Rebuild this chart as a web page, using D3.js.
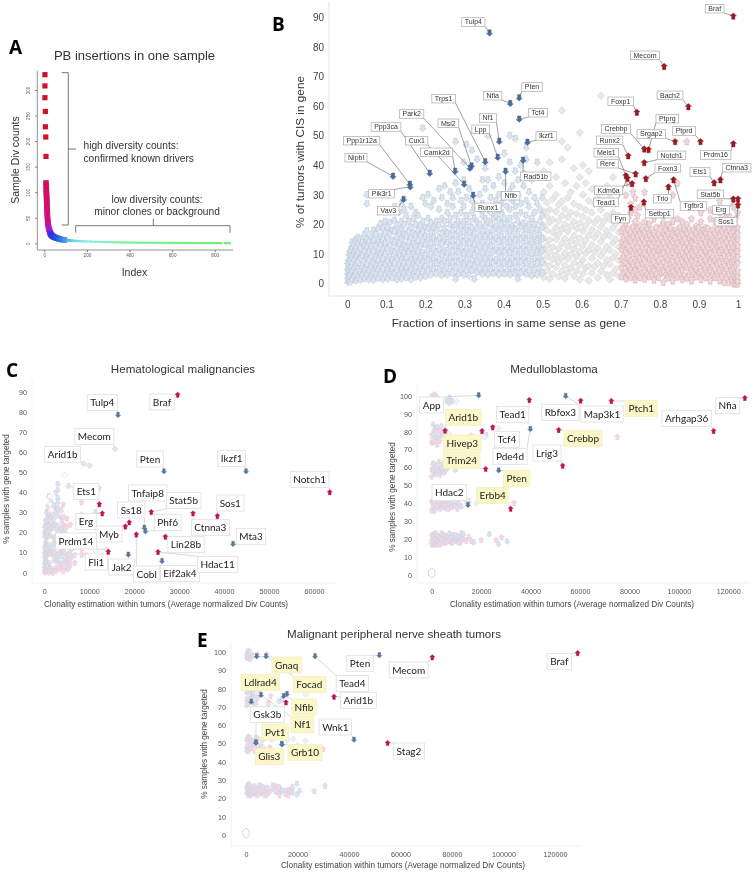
<!DOCTYPE html>
<html><head><meta charset="utf-8">
<script src="https://cdn.jsdelivr.net/npm/d3@7"></script>
<style>html,body{margin:0;padding:0;background:#fff}svg{display:block;filter:blur(0.3px)}</style>
</head><body><svg id="c" width="755" height="876"></svg>
<script>
/* ---------- DATA ---------- */
// Panel A
const aSquareIndex=[3,3,3,5,5,7,8];
const aSquareValue=[330,308,285,258,228,208,170];
const aIndex=[8,9,9,10,10,11,11,12,12,13,13,14,14,15,16,17,18,20,22,24,26,28,31,34,38,42,47,53,60,68,76,85,95,105,118,132,148,165,185,205,230,255,280,310,340,370,400,430,460,490,520,550,580,610,640,670,700,730,760,790,820,860];
const aValue=[118,112,105,100,95,90,85,80,75,70,65,60,55,50,45,40,36,32,28,25,22,20,18,16,14,13,12,11,10,9,8,7,6.5,6,5.5,5,4.6,4.2,3.8,3.4,3,2.8,2.5,2.2,2,1.8,1.5,1.3,1.2,1.1,1,0.9,0.8,0.7,0.6,0.5,0.5,0.4,0.4,0.3,0.3,0.2];
// Panel B highlighted
const bBlueGenes=["Tulp4","Nfia","Pten","Tcf4","Nf1","Ikzf1","Lpp","Rad51b","Trps1","Msi2","Park2","Camk2d","Nfib","Ppp3ca","Nipbl","Ppp1r12a","Pik3r1","Cux1","Runx1","Vav3"];
const bBlueX=[.364,.417,.44,.44,.389,.461,.385,.45,.353,.318,.314,.276,.405,.211,.117,.16,.161,.299,.322,.144];
const bBlueY=[84.7,60.9,62.8,55.6,48.1,47.8,42.7,41.7,41.2,39.8,39,38,38,37.3,36.3,33.6,32.7,33.6,29.9,28.5];
const bRedGenes=["Braf","Mecom","Bach2","Foxp1","Srgap2","Ptprd","Prdm16","Crebbp","Ptprg","Runx2","Notch1","Rere","Meis1","Tead1","Foxn3","Tgfbr3","Ctnna3","Ets1","Kdm6a","Trio","Stat5b","Erg","Setbp1","Sos1","Fyn"];
const bRedX=[.988,.811,.873,.741,.839,.904,.988,.76,.771,.719,.76,.738,.713,.717,.764,.835,.955,.939,.729,.822,.988,1,.759,1,.726];
const bRedY=[90.4,73.4,59.8,57.9,48,48,47.3,45.5,45.3,43.2,40.9,37.1,36.5,35.6,35.5,35.1,35.1,34.1,33.8,32.7,28.6,28.6,27.6,26.6,25.8];
// Panel B background columns: [x,[y...]]
const bPaleBlue=[
[.001,[.5,2,3.5,5,7]],[.004,[1,2.8,4.4,6,8,10]],[.008,[.5,3.2,5.5,7.5,9.5,11.5]],[.012,[1.5,4,6.6,9,12,14]],[.017,[2.5,5.2,8,10.5,13]],[.022,[1,3.6,6.4,9.2,11.8,14.8]],
[.027,[2,5,7.6,10.4,13.4,15.5]],[.033,[1.2,4,8.8,12,15]],[.038,[2.8,6,9.6,14]],[.044,[1.6,4.6,7.4,11,13,16.5]],[.05,[3,6.4,9,12.4,15,17.8,27,30]],[.055,[1.4,4.4,8,10.6,14]],
[.061,[2.6,5.8,9.4,12.6,16]],[.067,[1.2,4,7.2,11,14.6,18]],[.073,[3,6,8.8,12.8,16.4]],[.079,[1.8,4.8,7.8,10.6,14,18.6]],[.085,[3.4,6.2,9.8,13,16,20.2]],[.091,[1.4,5,8.4,11.4,15,18.4]],
[.097,[2.8,6.6,10,13.6,17,21]],[.103,[1.6,4.4,7.6,11.8,15.6,19,30]],[.109,[3.2,6,9.2,13,17,20.6]],[.115,[2,5,8,11,14.6,18]],[.121,[3.6,7,10.4,13.8,17.6,21.4,26]],[.127,[1.4,4.6,8.6,12,15.8,19.6]],
[.133,[2.8,6.2,9.6,13.6,17,24]],[.139,[1.6,5,8,11.4,15,18.6,21,27]],[.145,[3.4,6.8,10.2,13,16.6,20,25]],[.151,[2,5.4,8.8,12.2,16,23]],[.157,[3.8,7,10.8,14,18,21]],[.163,[1.4,4.8,8.2,12,15.6,19,26]],
[.169,[3.2,6.6,10,13.6,17,22]],[.175,[2.2,5.6,9,12.4,16,20,24]],[.181,[3.6,7.4,11,14.6,18,23]],[.187,[2,5,8.6,12.6,16.4,19.6]],[.193,[4,7.2,10.4,14,17.6,21,29,52.5]],[.2,[2.4,5.8,9.4,13,16,19,27]],
[.207,[4.4,8,11.4,15,18.6,22,30]],[.214,[3,6.4,9.8,13.4,17,20.4,26]],[.221,[5,8.6,12,15.6,19,28]],[.228,[3.4,7,10.6,14.2,18,21]],[.235,[4.8,8.2,11.8,15.4,19.6,25,32]],[.242,[2.8,6.2,9.8,13.4,17,22,29]],
[.249,[4.4,7.8,11.2,15,18.4,21,33]],[.256,[3,6.8,10.2,13.8,17,24,27]],[.263,[5,8.6,12.4,16,19.8,22,31]],[.27,[3.6,7,10.8,14.4,18,26,29]],[.277,[1.5,5.4,9,12.6,16.2,20,23,34,48]],[.284,[3.2,7.2,10.8,14,17.8,21,31]],
[.291,[4.8,8.4,12,15.6,19.4,24,28]],[.298,[3,6.6,10.2,14,17.6,21,26,35,41]],[.305,[4.6,8,11.8,15.4,19,23,29,47]],[.312,[2.6,6.2,9.8,13.6,17.4,21,32]],[.319,[4.4,8,11.6,15.2,19,24,28,45]],[.325,[1.5,6,9.6,13.2,16.8,22,26]],
[.332,[3.8,7.4,11.2,14.8,18.6,21,42]],[.339,[5.2,9,12.6,16.2,20,25,30]],[.346,[3.2,6.8,10.4,14,17.8,23,27,35]],[.353,[4.8,8.4,12,15.8,19.6,22,32,39]],[.36,[3,6.6,10,13.8,17.4,21,25,35,50]],[.367,[5,8.6,12.4,16,20,24,29]],
[.374,[3.4,7,10.8,14.4,18,22,26,33]],[.381,[4.6,8.2,12,15.6,19.4,23,28]],[.388,[3,6.8,10.4,14.2,17.8,21.6,25,30,36]],[.395,[5,8.8,12.4,16,20,24,27]],[.402,[3.2,7,10.8,14.6,18.4,22,29,34,44]],[.409,[4.8,8.4,12.2,16,20,26]],
[.416,[3,6.6,10.4,14,17.8,22,25,31,41,50]],[.423,[5,8.6,12.2,16,19.6,28,33]],[.43,[3.4,7.2,11,14.6,18.4,23,26,38,49]],[.437,[1.6,5.4,9,12.8,16.6,21,30,35]],[.444,[3.6,7.4,11,15,19,24,27,40]],[.451,[5,8.8,12.6,16.4,20.4,33,37]],
[.458,[3.2,7,10.8,14.6,18.4,23,28,42,46]],[.465,[4.6,8.6,12.4,16.2,20,26,31]],[.472,[2.6,6.4,10.2,14,18,22,35]],[.479,[4.6,8.4,12.2,16,20,24,29]],[.486,[3,6.8,10.6,14.4,18.2,27,41]],[.493,[5,8.8,12.6,16.4,21,25]],[.499,[3.6,7.4,11.2,15,19,23,29]]];
const bPaleGrey=[
[.503,[2.2,6.8,11.3,15.4,19.6,24.5,31,38]],[.511,[4.4,9.1,13,18,22.6,27.4]],[.518,[1.6,6.1,10.6,14.8,20.8,25,33,41]],[.526,[3.3,8.2,12.4,17.3,21.6,28.7]],[.534,[5.6,9.7,15,19,24.4,30,36]],[.541,[2.4,7.4,11.8,16.6,21.2,26.6]],
[.549,[4.2,8.8,13.6,18.4,23,27.8,42,48,58.5]],[.557,[1.8,6.2,10.4,15.2,20,25.2,34]],[.564,[3.7,8.4,12.6,17.6,22.4,29,46]],[.572,[5.3,10,14.4,19.4,24,31]],[.58,[2.6,7.2,11.8,16.2,21,27,39]],[.587,[4.4,9.2,13.8,18.6,23.6,33]],
[.595,[1.4,6.4,10.8,15.4,20.4,26,36,51]],[.603,[3.4,8,12.8,17.8,22.6,30,40]],[.61,[5.4,10.2,14.6,19.6,25,34]],[.618,[1,6,11.4,16.4,21.4,28,38]],[.626,[3.6,8.6,13.2,18.2,24,32]],[.633,[5.8,10.6,15.6,20.6,27]],
[.641,[2,7,12,17,22,29]],[.649,[4.2,9.4,14.2,19.2,25,63.5]],[.656,[6,10.8,15.8,21,28]],[.664,[3,8,12.6,17.8,23,33]],[.672,[1.4,6.6,11.4,16.2,21.8,29]],[.68,[3.6,8.8,13.8,18.8,24,36]],[.687,[5,10,15,20.4,27]],[.695,[2.6,7.8,12.4,17.4,23]]];
const bPalePink=[
[.702,[2.4,5.6,8.3,11.7,14.2,17.8]],[.707,[3.8,7.1,9.4,12.9,15.6,19]],[.713,[1.7,4.2,6.9,10.6,13.3,16.7,20.4,30]],[.719,[3.3,5.9,8.8,12.2,15.1,18.4,22,34]],[.725,[2.2,4.9,7.7,11.1,14.6,17.1,24,27]],[.731,[3.6,6.6,10.2,13.1,16.2,19.3,31]],
[.737,[1.4,4.7,8.1,11.6,14.4,17.6,21,25,29]],[.743,[2.9,6.2,9.1,12.4,15.8,18.7,23]],[.749,[2.1,5.3,8.6,10.8,13.9,16.9,19.7,26]],[.755,[3.7,6.9,9.8,12.7,15.3,18.2]],[.761,[1.6,4.3,7.4,10.3,14.1,17.4,21,31]],[.767,[3.1,5.7,9.3,12.1,15.7,18.9]],
[.773,[2.4,5.1,8.4,11.3,13.6,16.6,20.3,24]],[.779,[3.4,6.8,9.6,12.8,15.2,18.1]],[.785,[1.3,4.6,7.2,10.9,14.3,17.2,22]],[.791,[3.2,6.1,9.2,11.9,15.6,19.1]],[.797,[2.2,5.4,7.9,11.4,13.8,16.8]],[.803,[3.9,6.4,10.1,12.6,15.4,19.4]],
[.809,[.5,4.4,7.6,10.4,14,17.3,20.6,23]],[.815,[2.8,5.8,8.9,12.3,15.9,18.3]],[.821,[2.1,4.9,8.3,11.2,13.7,17,20]],[.827,[3.5,6.7,9.7,12.9,15.1,18.8]],[.833,[1,4.3,7.3,10.7,14.2,16.4,21,30]],[.839,[3,6,9.4,12,15.5,18]],
[.845,[2.3,5.2,8,11.5,13.9,17.5,22,34]],[.851,[3.6,6.5,9.9,12.6,16,19.2]],[.857,[1.5,4.8,7.5,10.2,14.4,16.9,21]],[.863,[2.7,6.3,9,12.2,15.3,18.4]],[.869,[2,5.5,8.2,11,13.5,17.4,20,48]],[.875,[3.3,6.6,9.5,12.5,15.7,18.6]],
[.881,[1,4.5,7.8,10.6,14,16.3,22]],[.887,[3.2,5.8,9.2,11.8,15.2,18.2]],[.893,[2.4,5,8.4,11.3,14.6,17.2,19.5]],[.899,[3.8,6.9,9.8,12.7,15.6,18.9]],[.905,[1.5,4.2,7.2,10.5,13.4,16.6,21,24]],[.911,[2.9,6.1,9.3,12.1,15.4,18.1]],
[.917,[2.1,5.4,8.2,11.2,14.1,17.3,19]],[.923,[3.6,6.4,9.6,12.4,15.9,18.7]],[.929,[1,4.7,7.6,10.3,13.7,16.2,22,25]],[.935,[3,5.9,8.8,12.2,15.1,18.3]],[.941,[2.2,5.2,8.1,11.4,14.4,17,21]],[.947,[3.4,6.7,9.4,12.8,15.7,18.5]],
[.953,[1,4.4,7.3,10.7,13.3,16.4,20,24,28]],[.959,[2.5,5.6,8.6,11.6,14.8,17.7]],[.965,[.5,3.6,6.3,9.6,12.3,15.3,19,22]],[.971,[2.2,5.2,7.9,11.2,14.2,17.2]],[.977,[.5,3.3,6.7,9.3,12.7,15.7,18.3,23]],[.983,[1.5,4.6,7.4,10.6,13.6,17,20]],
[.989,[0,2.4,5.1,7.6,10.1,12.4,15.2,18,21,26]],[.994,[0,1.6,3.4,6.1,8.4,11.2,13.6,16,19,22]],[.999,[0,1,2.6,4.4,7.1,9,11.1,13,15.2,17,19,24]]];
// Panel C
const cBlueGenes=["Tulp4","Pten","Ikzf1","Tnfaip8","Phf6","Mta3","Jak2","Eif2ak4"];
const cBlueX=[16400,26630,44880,22250,22480,41980,18700,26190];
const cBlueY=[78.4,50.4,50.4,22.4,20.6,14.3,9,5.8];
const cRedGenes=["Braf","Notch1","Ets1","Erg","Stat5b","Ctnna3","Sos1","Ss18","Myb","Cobl","Lin28b","Fli1","Hdac11"];
const cRedX=[29670,63500,12240,12900,23800,33090,38500,18900,18030,20470,26930,14240,25300];
const cRedY=[88.5,40,34,29.5,30.2,29.5,28.2,25,23,19,17.9,10.4,10.3];
const cGreyGenes=["Mecom","Arid1b","","Prdm14"];
const cGreyX=[15730,8830,10090,13900];
const cGreyY=[61.5,54.2,53.2,11.5];
const cPaleBlue=[[100,[0,1.5,3,5,8,10,13,18,20,23]],[500,[1,4,6,9,12,16,19,23,26,30]],[1000,[0,5,8,11,14,17,21,24,29,38]],[1500,[3,7,10,13,16,19,22,25,28,35]],[2200,[1,4,7,10,14,18,21,24,27,33]],[3000,[2,6,9,13,16,20,23,26,29,32,37,44,35,41]],[3800,[4,8,11,15,18,22,26,31]],[4500,[6,10,13,17,21]],[5400,[2,6,9,13,16,43]],[6200,[8,12]],[11400,[11,30]]];
const cPalePink=[[300,[0.5,2.5,7,12,15,21,26]],[800,[1,3,7.5,10,16,20,28,33]],[1300,[2,4,9,12,18,25,28]],[1900,[0,3,8,11,17,23,29,34]],[2600,[1,6,9,15,18,25,31,40]],[3400,[2,5,11,14,21,27]],[4200,[1,3.5,10,13,20,24,28,34]],[5000,[2,5,8,15,19,23,27]],[5800,[4,7,11,14,18,24]],[6800,[5,9,13,42]],[8300,[9,12,29,35]],[9300,[9]],[12200,[42]]];
const cPaleGrey=[[1300,[38,34,16,7]],[4500,[48.5]],[3000,[26,12]],[11400,[11]],[2000,[20,4]]];
// Panel D
const dBlueGenes=["App","Pde4d","Pten","Hdac2","Map3k1"];
const dBlueX=[19010,39900,27100,14700,54200];
const dBlueY=[100.4,81.5,58.4,39,100];
const dRedGenes=["Nfia","Rbfox3","Tead1","Ptch1","Arhgap36","Crebbp","Lrig3","Tcf4","Hivep3","Arid1b","Trim24","Erbb4"];
const dRedX=[126700,60270,39500,72670,114060,51370,52990,24670,20360,5390,21840,31950];
const dRedY=[98.9,97.4,97.8,97.2,80.4,81,61,82.5,80.4,80.6,59.2,36.9];
const dPaleBlue=[[600,[99,84,79,74,62,58,41,38,22,19]],[1700,[100,82,77,60,56,42,37,20,17,23]],[2800,[98,80,76,63,58,40,21,18]],[3900,[83,78,60,57,42,38,20,23]],[5000,[61,57,39,22,19]],[6000,[97,80,59,41,37,21,18]],[7200,[99,96,61,40,20,23]],[8400,[97,38,41,22,18]],[9600,[58.5,38,22,19]],[10800,[40,21,18]],[12000,[38,23,20]],[12800,[22.5]],[15000,[21,41]],[17000,[18]],[23300,[22.5]],[27000,[17]],[30500,[18.5]],[22000,[78]]];
const dPalePink=[[0,[100,96,78,74,59,55,41,36,19,17,22]],[1100,[101,81,75,57,62,39,36,20,23,17]],[2200,[99,83,77,73,59,41,38,22,19,17]],[3300,[81,75,60,56,40,37,20,17]],[4400,[79,62,58,41,38,21,18,23]],[5600,[59,41,38,21,18]],[6800,[40,37,19,22]],[8000,[42,38,20,18]],[9200,[39,20,22]],[10400,[41,37,19]],[11600,[39,22,18]],[13000,[20]],[14000,[41,19]],[16000,[19,78]],[20000,[19.5]],[26000,[19.5]],[28300,[21]],[33300,[40.3]],[75100,[77.2]]];
const dPaleGrey=[[10000,[97]],[27000,[82]],[18000,[40]],[21500,[77]],[14000,[42]],[6800,[79]],[9500,[60]]];
const dZeroRing=[[0,[1]]];
// Panel E
const eBlueGenes=["Gnaq","Focad","Tead4","Pten","Wnk1","Nf1","Ldlrad4","Nfib","","Gsk3b","Glis3","Grb10","Pvt1"];
const eBlueX=[4140,7770,26800,51800,41940,5830,2070,14630,15920,3880,3900,13980,13900];
const eBlueY=[97.8,97.8,97.8,98.4,52.2,76.6,73,76.1,77.2,50.7,50.5,49.6,49.8];
const eRedGenes=["Braf","Mecom","Arid1b","Stag2",""];
const eRedX=[128800,72360,34170,55000,15530];
const eRedY=[99.6,97.3,75.7,50.4,72.6];
const ePaleBlue=[[300,[99,97,78,74,71,52,48,46,26,23]],[1500,[100,96,79,73,53,47,27,24,22]],[2600,[98,77,75,51,49,26,23]],[3800,[76,72,53,25,22]],[5200,[79,48,27,24]],[6500,[52,26,23]],[8200,[25,22]],[10500,[25,27]],[12800,[73,23,26]],[14000,[74,24]],[15500,[24,22]],[18000,[26,23]],[19800,[22,28]],[20800,[24]]];
const ePalePink=[[900,[101,97,80,75,72,54,50,46,28,25,22]],[2000,[98,77,73,48,52,25,22]],[3200,[80,72,50,46,27,24]],[4500,[99,75,47,53,25,22]],[5800,[49,27,23]],[7200,[47,25,22]],[8100,[99,26]],[8700,[72.5]],[9300,[48,24]],[9600,[76]],[11500,[24,27]],[13000,[26,22]],[16500,[25,22]],[17200,[24]],[26500,[24]],[30700,[27]],[26000,[47.5]],[30000,[47]]];
const ePaleGrey=[[23200,[77]],[18400,[52.5]],[16000,[52]],[23000,[51.6]],[20000,[49]],[10000,[52]]];
const eZeroRing=[[0,[1]]];
const xTicksC=[0,10000,20000,30000,40000,50000,60000];
const yTicksC=[0,10,20,30,40,50,60,70,80,90];
const xTicksDE=[0,20000,40000,60000,80000,100000,120000];
const yTicksDE=[0,10,20,30,40,50,60,70,80,90,100];
const xTicksB=[0,.1,.2,.3,.4,.5,.6,.7,.8,.9,1];
const yTicksB=[0,10,20,30,40,50,60,70,80,90];
const xTicksA=[0,200,400,600,800];
const yTicksA=[0,50,100,150,200,250,300];
const dYellow=["Arid1b","Ptch1","Hivep3","Crebbp","Trim24","Pten","Erbb4"];
const eYellow=["Gnaq","Focad","Ldlrad4","Nfib","Nf1","Pvt1","Grb10","Glis3"];
const clonalityTitle="Clonality estimation within tumors (Average normalized Div Counts)";
const ySamples="% samples with gene targeted";

/* ---------- LAYOUT (label box centres in crop coordinates, 3x) ---------- */
const bBoxesL={Tulp4:[610,66],Nfia:[668,287],Trps1:[521,296],Park2:[425,342],Ppp3ca:[348,381],Msi2:[535,370],Nf1:[654,354],Lpp:[632,388],Cux1:[440,422],Ppp1r12a:[275,422],Camk2d:[500,457],Nipbl:[258,473],Pik3r1:[335,581],Vav3:[355,632],Runx1:[654,622],Nfib:[722,587]};
const bBoxesR={Pten:[36,261],Tcf4:[54,338],Ikzf1:[79,408],Rad51b:[47,529],Braf:[584,26],Mecom:[375,166],Foxp1:[302,304],Bach2:[450,286],Ptprg:[442,356],Crebbp:[288,387],Srgap2:[394,402],Ptprd:[492,393],Runx2:[269,421],Notch1:[455,466],Meis1:[259,458],Rere:[263,491],Foxn3:[443,505],Prdm16:[587,465],Ets1:[540,516],Ctnna3:[650,503],Kdm6a:[266,571],Tead1:[258,607],Trio:[427,596],Stat5b:[571,583],Tgfbr3:[520,618],Erg:[603,630],Sos1:[618,665],Setbp1:[419,641],Fyn:[301,656]};
const cBoxes={Tulp4:[307,158],Braf:[486,156],Mecom:[283,260],Arid1b:[188,313],Pten:[450,327],Ikzf1:[695,326],Notch1:[929,388],Ets1:[259,424],Tnfaip8:[443,429],Stat5b:[551,452],Sos1:[691,459],Ss18:[394,480],Erg:[258,514],Phf6:[503,518],Ctnna3:[631,533],Myb:[327,552],Mta3:[753,559],Prdm14:[228,573],Lin28b:[558,584],Hdac11:[653,643],Fli1:[289,636],Jak2:[365,651],Cobl:[440,672],Eif2ak4:[540,671]};
const dBoxes={App:[170,165],Arid1b:[265,203],Tead1:[413,194],Rbfox3:[556,187],Map3k1:[681,192],Ptch1:[799,176],Arhgap36:[935,205],Nfia:[1058,167],Hivep3:[262,279],Tcf4:[396,268],Crebbp:[624,266],Lrig3:[516,309],Pde4d:[405,319],Trim24:[260,331],Pten:[425,386],Hdac2:[223,428],Erbb4:[353,437]};
const eBoxes={Gnaq:[290,135],Focad:[358,193],Tead4:[487,191],Pten:[510,130],Mecom:[656,150],Braf:[1108,124],Ldlrad4:[211,187],Arid1b:[505,241],Nfib:[342,261],Gsk3b:[232,284],Nf1:[337,314],Wnk1:[436,321],Pvt1:[256,336],Stag2:[657,393],Grb10:[345,398],Glis3:[238,410]};

const svg=d3.select("#c");
const SANS="'Liberation Sans',Arial,sans-serif", CAL="Lato,'Open Sans',sans-serif";
const arrowUp=s=>`M0,${-s}L${s},${-.1*s}L${.52*s},${-.1*s}L${.52*s},${s}L${-.52*s},${s}L${-.52*s},${-.1*s}L${-s},${-.1*s}Z`;
const arrowDown=s=>`M0,${s}L${s},${.1*s}L${.52*s},${.1*s}L${.52*s},${-s}L${-.52*s},${-s}L${-.52*s},${.1*s}L${-s},${.1*s}Z`;
const diamond=s=>`M0,${-s}L${s},0L0,${s}L${-s},0Z`;
const hollowRing=s=>`M0,${-s*1.25}L${s*.8},${-s*.6}L${s*.8},${s*.6}L0,${s*1.25}L${-s*.8},${s*.6}L${-s*.8},${-s*.6}Z`;
const expand=cols=>cols.flatMap(([x,ys])=>ys.map(y=>({x,y})));
const zip=(g,x,y)=>g.map((n,i)=>({gene:n,x:x[i],y:y[i]}));

function marks(parent,pts,sx,sy,pathStr,fill,stroke,sw){
  parent.append("g").selectAll("path").data(pts).join("path")
    .attr("d",pathStr).attr("transform",d=>`translate(${sx(d.x)},${sy(d.y)})`)
    .attr("fill",fill).attr("stroke",stroke).attr("stroke-width",sw);
}
function axes(g,o){
  const [l,t,r,b]=o.frame;
  g.append("path").attr("d",`M${l},${t}V${b}H${r}`).attr("fill","none").attr("stroke",o.frameCol).attr("stroke-width",1);
  const xa=g.append("g").attr("transform",`translate(0,${b})`).call(d3.axisBottom(o.sx).tickValues(o.xt).tickSize(0).tickPadding(o.xpad).tickFormat(o.xf||d3.format("d")));
  const ya=g.append("g").attr("transform",`translate(${l},0)`).call(d3.axisLeft(o.sy).tickValues(o.yt).tickSize(0).tickPadding(o.ypad).tickFormat(d3.format("d")));
  [xa,ya].forEach(a=>{a.select(".domain").remove();a.selectAll("text").attr("font-family",SANS).attr("font-size",o.tickFs).attr("fill",o.tickCol);});
}
function labels(g,items,boxes,org,o){
  const lay=g.append("g"), all=[];
  items.forEach(d=>{const b=boxes[d.gene]; if(!b)return; all.push({...d,cx:org[0]+b[0]/3,cy:org[1]+b[1]/3});});
  all.forEach(d=>{
    const t=lay.append("text").attr("font-family",o.font).attr("font-size",o.fs).attr("fill",o.txt).attr("text-anchor","middle").attr("x",d.cx).attr("y",d.cy+o.fs*.35).text(d.gene);
    d.w=t.node().getComputedTextLength()+o.padX*2; d.h=o.h; t.remove();
    const px=o.sx(d.x),py=o.sy(d.y);
    const ex=Math.max(d.cx-d.w/2,Math.min(px,d.cx+d.w/2)), ey=Math.max(d.cy-d.h/2,Math.min(py,d.cy+d.h/2));
    lay.append("line").attr("x1",ex).attr("y1",ey).attr("x2",px).attr("y2",py).attr("stroke",o.leader).attr("stroke-width",.7);
  });
  all.forEach(d=>{
    const yl=o.yellow&&o.yellow.includes(d.gene);
    lay.append("rect").attr("x",d.cx-d.w/2).attr("y",d.cy-d.h/2).attr("width",d.w).attr("height",d.h)
      .attr("fill",yl?"#fbf7c8":"#fff").attr("stroke",yl?"#f3efc6":o.box).attr("stroke-width",o.boxW);
    lay.append("text").attr("font-family",o.font).attr("font-size",o.fs).attr("fill",o.txt).attr("text-anchor","middle").attr("x",d.cx).attr("y",d.cy+o.fs*.35).text(d.gene);
  });
}
function txt(s,x,y,fs,o={}){
  const t=svg.append("text").attr("x",x).attr("y",y).attr("font-size",fs).attr("font-family",o.font||SANS).attr("fill",o.fill||"#333").attr("text-anchor",o.anchor||"middle").attr("font-weight",o.weight||"normal").text(s);
  if(o.rot)t.attr("transform",`rotate(${o.rot},${x},${y})`);
  return t;
}

/* ---------- Panel letters ---------- */
const letterFont="'Open Sans',sans-serif";
txt("A",9,54,19,{anchor:"start",weight:"bold",font:letterFont,fill:"#000"});
txt("B",272,31,19,{anchor:"start",weight:"bold",font:letterFont,fill:"#000"});
txt("C",6,377,19,{anchor:"start",weight:"bold",font:letterFont,fill:"#000"});
txt("D",383,383,19,{anchor:"start",weight:"bold",font:letterFont,fill:"#000"});
txt("E",197,647,19,{anchor:"start",weight:"bold",font:letterFont,fill:"#000"});

/* ---------- Panel A ---------- */
{
  const g=svg.append("g");
  const sx=d3.scaleLinear().domain([0,800]).range([44.3,214.7]);
  const sy=d3.scaleLinear().domain([0,300]).range([243.3,90]);
  const col=d3.scaleLinear().domain([0,16,24,34,60,130,200,360,860]).range(["#d0103c","#d0107a","#a020d0","#3030e0","#2050e0","#60c8f0","#90f0e0","#80f0a0","#70f070"]);
  g.append("path").attr("d","M37.3,70.7V250H233").attr("fill","none").attr("stroke","#777").attr("stroke-width",.8);
  const xa=g.append("g").attr("transform","translate(0,250)").call(d3.axisBottom(sx).tickValues(xTicksA).tickSize(2).tickPadding(2));
  const ya=g.append("g").attr("transform","translate(37.3,0)").call(d3.axisLeft(sy).tickValues(yTicksA).tickSize(2).tickPadding(2));
  [xa,ya].forEach(a=>{a.select(".domain").remove();a.selectAll("line").attr("stroke","#777");a.selectAll("text").attr("font-family",SANS).attr("font-size",4.6).attr("fill","#555");});
  ya.selectAll("text").attr("transform","rotate(-90)").attr("x",0).attr("y",-7).attr("text-anchor","middle").attr("dy",0);
  const pts=aIndex.map((x,i)=>({x,y:aValue[i]}));
  g.append("g").selectAll("rect").data(pts).join("rect")
    .attr("x",d=>sx(d.x)-(d.x>100?3.5:2.8)).attr("y",d=>sy(d.y)-(d.x>100?1.1:2.8))
    .attr("width",d=>d.x>100?7:5.6).attr("height",d=>d.x>100?2.2:5.6).attr("fill",d=>col(d.x));
  g.append("g").selectAll("rect").data(aSquareIndex.map((x,i)=>({x,y:aSquareValue[i]}))).join("rect")
    .attr("x",d=>sx(d.x)-2.6).attr("y",d=>sy(d.y)-2.6).attr("width",5.2).attr("height",5.2).attr("fill","#d0102c");
  g.append("path").attr("d","M61.7,72.7H68.3V225H61.7M68.3,149H76").attr("fill","none").attr("stroke","#555").attr("stroke-width",.8);
  g.append("path").attr("d","M75.7,232.7V225.7H230V232.7M153.3,225.7V218.5").attr("fill","none").attr("stroke","#555").attr("stroke-width",.8);
  txt("PB insertions in one sample",134.5,59.5,13);
  txt("high diversity counts:",83.5,149,10.2,{anchor:"start"});
  txt("confirmed known drivers",83.5,161.7,10.2,{anchor:"start"});
  txt("low diversity counts:",157,202.5,10.2);
  txt("minor clones or background",157,215,10.2);
  txt("Index",134.5,276,10.5);
  txt("Sample Div counts",19,160,10.5,{rot:-90});
}

/* ---------- Panel B ---------- */
{
  const g=svg.append("g");
  const sx=d3.scaleLinear().domain([0,1]).range([347.3,738]);
  const sy=d3.scaleLinear().domain([0,90]).range([283.7,17.3]);
  axes(g,{frame:[329,2,745,296],sx,sy,xt:xTicksB,yt:yTicksB,frameCol:"#e4e4e4",xpad:5,ypad:5,tickFs:10,tickCol:"#444",xf:d=>String(d)});
  marks(g,expand(bPaleGrey),sx,sy,diamond(3.7),"#e9e9e9","#d0d0d0",.6);
  marks(g,expand(bPaleBlue),sx,sy,arrowDown(3.4),"#dde5ef","#b7c6d8",.6);
  marks(g,expand(bPalePink),sx,sy,arrowUp(3.4),"#efd9dc","#d8aeb4",.6);
  const blue=zip(bBlueGenes,bBlueX,bBlueY), red=zip(bRedGenes,bRedX,bRedY);
  labels(g,blue.concat(red),{...Object.fromEntries(Object.entries(bBoxesL).map(([k,v])=>[k,[v[0]+270*3,v[1]]])),...Object.fromEntries(Object.entries(bBoxesR).map(([k,v])=>[k,[v[0]+520*3,v[1]]]))},[0,0],
    {sx,sy,font:SANS,fs:7,txt:"#333",padX:3,h:8.6,leader:"#777",box:"#aaa",boxW:.7});
  marks(g,blue,sx,sy,arrowDown(3.2),"#4a6c9c","#3f5f8e",.4);
  marks(g,red,sx,sy,arrowUp(3.2),"#9a1a24","#86141e",.4);
  txt("Fraction of insertions in same sense as gene",508.7,326.7,11.8);
  txt("% of tumors with CIS in gene",304,152,11.8,{rot:-90});
}

/* ---------- Panels C, D, E ---------- */
function cloudPanel(c){
  const g=svg.append("g");
  const {sx,sy}=c;
  axes(g,{frame:c.frame,sx,sy,xt:c.xt,yt:c.yt,frameCol:"#f2f2f2",xpad:6,ypad:5,tickFs:7.2,tickCol:"#555"});
  if(c.ring)marks(g,expand(c.ring),sx,sy,hollowRing(4),"#fff","#c8c8c8",.8);
  const mixed=expand(c.blue).map(d=>({...d,k:0})).concat(expand(c.pink).map(d=>({...d,k:1}))).sort((a,b)=>d3.ascending(a.x,b.x));
  g.append("g").selectAll("path").data(mixed).join("path")
    .attr("d",d=>d.k?arrowUp(2.9):arrowDown(2.9)).attr("transform",d=>`translate(${sx(d.x)},${sy(d.y)})`)
    .attr("fill",d=>d.k?"#f3d8e6":"#dbe4ed").attr("stroke",d=>d.k?"#eabfd7":"#bccbdb").attr("stroke-width",.35);
  marks(g,expand(c.grey),sx,sy,diamond(3),"#f1f1f1","#d8d8d8",.5);
  if(c.whites)marks(g,expand(c.whites),sx,sy,diamond(3),"#fff","#dcdcdc",.6);
  labels(g,c.all,c.boxes,c.org,{sx,sy,font:CAL,fs:10,txt:"#222",padX:3,h:16,leader:"#c8c8c8",box:"#dedede",boxW:.8,yellow:c.yellow});
  if(c.greyHi)marks(g,c.greyHi,sx,sy,diamond(3),"#e6e6e6","#cfcfcf",.5);
  marks(g,c.blueHi,sx,sy,arrowDown(2.7),"#56789f","#4c6d96",.3);
  marks(g,c.redHi,sx,sy,arrowUp(2.7),"#bf1259","#ab0f50",.3);
  txt(c.title,c.tx,c.ty,11.6,{fill:"#333"});
  txt(clonalityTitle,c.lx,c.ly,8.2,{fill:"#444"});
  txt(ySamples,c.yx,c.yy,8.2,{fill:"#444",rot:-90});
}
{
  const sx=d3.scaleLinear().domain([0,60000]).range([44.3,314]);
  const sy=d3.scaleLinear().domain([0,90]).range([572.7,391.7]);
  const blueHi=zip(cBlueGenes,cBlueX,cBlueY), redHi=zip(cRedGenes,cRedX,cRedY), greyHi=zip(cGreyGenes,cGreyX,cGreyY);
  cloudPanel({sx,sy,frame:[32,380,335,583],xt:xTicksC,yt:yTicksC,pink:cPalePink,blue:cPaleBlue,grey:[],whites:cPaleGrey,blueHi,redHi,greyHi,all:blueHi.concat(redHi,greyHi),boxes:cBoxes,org:[0,350],title:"Hematological malignancies",tx:183,ty:373,lx:166,ly:607,yx:9,yy:489});
}
{
  const sx=d3.scaleLinear().domain([0,120000]).range([431.7,728.3]);
  const sy=d3.scaleLinear().domain([0,100]).range([574.7,396]);
  const blueHi=zip(dBlueGenes,dBlueX,dBlueY), redHi=zip(dRedGenes,dRedX,dRedY);
  cloudPanel({sx,sy,frame:[417,385,750,583],xt:xTicksDE,yt:yTicksDE,pink:dPalePink,blue:dPaleBlue,grey:dPaleGrey,ring:dZeroRing,blueHi,redHi,all:blueHi.concat(redHi),boxes:dBoxes,org:[375,350],yellow:dYellow,title:"Medulloblastoma",tx:554,ty:373,lx:572,ly:607,yx:395,yy:497});
}
{
  const sx=d3.scaleLinear().domain([0,120000]).range([246,555]);
  const sy=d3.scaleLinear().domain([0,100]).range([835,652.3]);
  const blueHi=zip(eBlueGenes,eBlueX,eBlueY), redHi=zip(eRedGenes,eRedX,eRedY);
  cloudPanel({sx,sy,frame:[231,642,581.7,846],xt:xTicksDE,yt:yTicksDE,pink:ePalePink,blue:ePaleBlue,grey:ePaleGrey,ring:eZeroRing,blueHi,redHi,all:blueHi.concat(redHi),boxes:eBoxes,org:[190,620],yellow:eYellow,title:"Malignant peripheral nerve sheath tumors",tx:394,ty:638,lx:403,ly:868,yx:207,yy:744});
}
</script></body></html>
